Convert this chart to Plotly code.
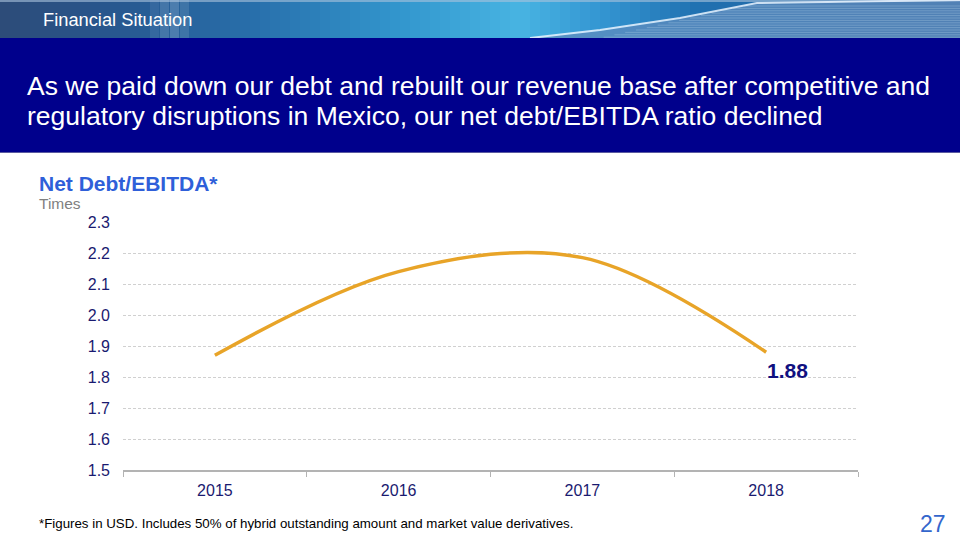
import plotly.graph_objects as go

years = ["2015", "2016", "2017", "2018"]
ratio = [1.87, 2.14, 2.185, 1.88]
y_ticks = [1.5, 1.6, 1.7, 1.8, 1.9, 2.0, 2.1, 2.2, 2.3]
title_lines = ["As we paid down our debt and rebuilt our revenue base after competitive and",
               "regulatory disruptions in Mexico, our net debt/EBITDA ratio declined"]

W, H = 960, 540
FONT = "Liberation Sans, Arial, sans-serif"

def px(x):
    return x / W

def py(y):
    return 1 - y / H

fig = go.Figure()
fig.add_trace(go.Scatter(
    x=years, y=ratio, mode="lines",
    line=dict(color="#E8A428", width=3.5, shape="spline", smoothing=1.0),
    hoverinfo="skip", showlegend=False,
))

shapes = []
stops = [(0, (45, 75, 120)), (100, (40, 85, 140)), (250, (40, 110, 170)),
         (400, (50, 150, 205)), (520, (72, 180, 226)), (600, (52, 150, 210)),
         (700, (32, 112, 176)), (960, (40, 95, 155))]
def col_at(x):
    for (x0, c0), (x1, c1) in zip(stops[:-1], stops[1:]):
        if x0 <= x <= x1:
            t = (x - x0) / (x1 - x0)
            return "rgb(%d,%d,%d)" % tuple(round(a + (b - a) * t) for a, b in zip(c0, c1))
    return "rgb(%d,%d,%d)" % stops[-1][1]
n = 96
for i in range(n):
    x0 = W * i / n
    x1 = W * (i + 1) / n + 0.8
    shapes.append(dict(type="rect", xref="paper", yref="paper",
                       x0=px(x0), x1=px(x1), y0=py(38), y1=py(0),
                       fillcolor=col_at((x0 + x1) / 2), line=dict(width=0), layer="below"))
# thin light top edge
shapes.append(dict(type="rect", xref="paper", yref="paper", x0=0, x1=1, y0=py(2), y1=py(0),
                   fillcolor="rgba(170,195,220,0.6)", line=dict(width=0), layer="below"))
pts = [(530, 38), (600, 31), (680, 19), (757, 4), (960, 1), (960, 38)]
path = "M " + " L ".join("%f,%f" % (px(a), py(b)) for a, b in pts) + " Z"
shapes.append(dict(type="path", xref="paper", yref="paper", path=path,
                   fillcolor="rgba(95,140,190,0.75)", line=dict(width=0), layer="below"))
for k in range(14):
    yy = 6 + k * 2.4
    shapes.append(dict(type="line", xref="paper", yref="paper",
                       x0=px(600 + (38 - yy) * 4.5), x1=px(960), y0=py(yy), y1=py(yy),
                       line=dict(color="rgba(175,205,230,0.35)", width=1), layer="below"))
streak = [(530, 38), (600, 30), (680, 18), (757, 3), (960, 0)]
spath = "M " + " L ".join("%f,%f" % (px(a), py(b)) for a, b in streak)
shapes.append(dict(type="path", xref="paper", yref="paper", path=spath,
                   line=dict(color="rgba(235,245,255,0.85)", width=2), layer="below"))
for xa, al in [(150, 0.08), (160, 0.16), (170, 0.2), (180, 0.12)]:
    shapes.append(dict(type="rect", xref="paper", yref="paper",
                       x0=px(xa), x1=px(xa + 9), y0=py(38), y1=py(0),
                       fillcolor="rgba(220,235,250,%f)" % al, line=dict(width=0), layer="below"))
shapes.append(dict(type="rect", xref="paper", yref="paper",
                   x0=0, x1=1, y0=py(152), y1=py(38),
                   fillcolor="#00008C", line=dict(width=0), layer="below"))
shapes.append(dict(type="line", xref="paper", yref="paper",
                   x0=0, x1=1, y0=py(152.5), y1=py(152.5),
                   line=dict(color="#5a5aa0", width=1), layer="below"))

annotations = [
    dict(text="Financial Situation", x=px(41), y=py(20), xref="paper", yref="paper",
         xanchor="left", yanchor="middle", showarrow=False,
         font=dict(family=FONT, size=18.3, color="white")),
    dict(text=title_lines[0], x=px(25), y=py(86), xref="paper", yref="paper",
         xanchor="left", yanchor="middle", showarrow=False,
         font=dict(family=FONT, size=26.5, color="white")),
    dict(text=title_lines[1], x=px(25), y=py(116), xref="paper", yref="paper",
         xanchor="left", yanchor="middle", showarrow=False,
         font=dict(family=FONT, size=26.5, color="white")),
    dict(text="<b>Net Debt/EBITDA*</b>", x=px(37), y=py(183), xref="paper", yref="paper",
         xanchor="left", yanchor="middle", showarrow=False,
         font=dict(family=FONT, size=21, color="#2F5FD9")),
    dict(text="Times", x=px(37), y=py(203), xref="paper", yref="paper",
         xanchor="left", yanchor="middle", showarrow=False,
         font=dict(family=FONT, size=15.5, color="#7F7F7F")),
    dict(text="<b>%.2f</b>" % ratio[-1], x=len(years) - 1, y=ratio[-1], xref="x", yref="y",
         xanchor="center", yanchor="middle", yshift=-18, xshift=21, showarrow=False,
         font=dict(family=FONT, size=21, color="#101080")),
    dict(text="*Figures in USD. Includes 50% of hybrid outstanding amount and market value derivatives.",
         x=px(37), y=py(523), xref="paper", yref="paper", xanchor="left", yanchor="middle",
         showarrow=False, font=dict(family=FONT, size=13.3, color="black")),
    dict(text="27", x=px(948), y=py(524), xref="paper", yref="paper", xanchor="right",
         yanchor="middle", showarrow=False, font=dict(family=FONT, size=23, color="#3366CC")),
]

fig.update_layout(
    width=W, height=H, margin=dict(l=0, r=0, t=0, b=0, pad=0, autoexpand=False),
    paper_bgcolor="white", plot_bgcolor="white",
    shapes=shapes, annotations=annotations,
    xaxis=dict(domain=[px(123), px(858)], type="category", range=[-0.5, 3.5], automargin=False,
               showgrid=False, zeroline=False, showline=True, linecolor="#B3B3B3", linewidth=1.5,
               ticks="outside", tickson="boundaries", ticklen=5, tickcolor="#B3B3B3",
               ticklabelstandoff=5,
               tickfont=dict(family=FONT, size=16, color="#1A1A70"), fixedrange=True),
    yaxis=dict(domain=[py(470), py(222)], range=[1.5, 2.3], tickvals=y_ticks, automargin=False,
               ticktext=["%.1f" % v for v in y_ticks], showline=False, zeroline=False,
               showgrid=True, gridcolor="#D0D0D0", griddash="3px,2px", gridwidth=1,
               ticks="", ticklabelstandoff=12,
               tickfont=dict(family=FONT, size=16, color="#1A1A70"), fixedrange=True),
)

post = "document.body.style.margin='0';document.body.style.overflow='hidden';"
fig.write_html("out.html", post_script=post, config={"displayModeBar": False})
